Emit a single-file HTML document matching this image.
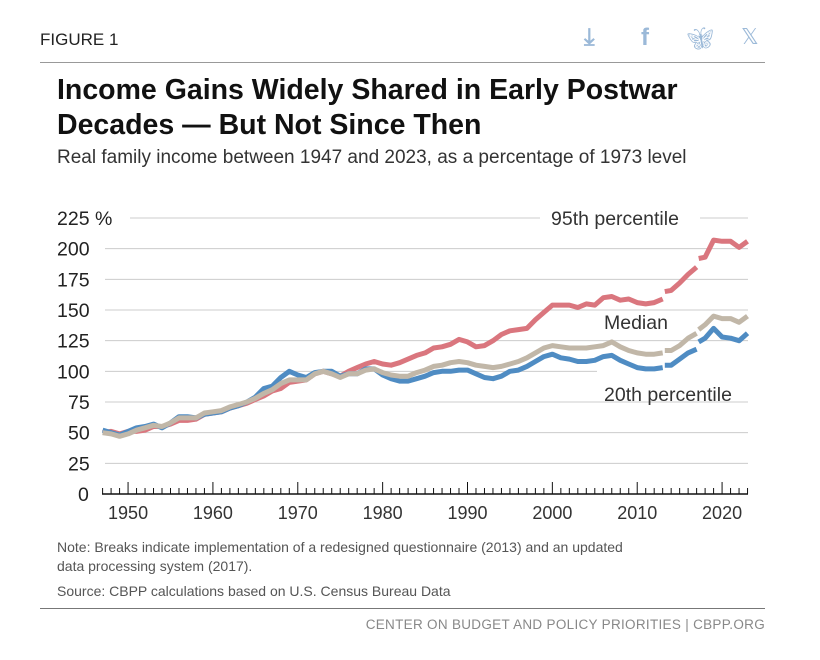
<!DOCTYPE html>
<html><head><meta charset="utf-8"><style>
body{margin:0;background:#fff;font-family:"Liberation Sans",sans-serif;}
.t{position:absolute;white-space:nowrap;}
</style></head><body>
<div style="position:relative;width:820px;height:660px;overflow:hidden">
<div class="t" style="left:40px;top:30px;font-size:17px;color:#222">FIGURE 1</div>
<div class="t" style="left:584px;top:24px;font-size:24px;color:#9bb9d8;font-weight:bold">⤓</div>
<div class="t" style="left:641px;top:24px;font-size:24px;color:#9bb9d8;font-weight:bold">f</div>
<div class="t" style="left:686px;top:26px;font-size:22px;color:#9bb9d8">🦋︎</div>
<div class="t" style="left:741px;top:24px;font-size:22px;color:#9bb9d8">𝕏</div>
<div style="position:absolute;left:40px;top:62px;width:725px;height:1px;background:#999"></div>
<div class="t" style="left:57px;top:73px;font-size:28.5px;font-weight:bold;color:#111;line-height:35px">Income Gains Widely Shared in Early Postwar<br>Decades — But Not Since Then</div>
<div class="t" style="left:57px;top:147px;font-size:19px;color:#333">Real family income between 1947 and 2023, as a percentage of 1973 level</div>
<svg id="c" width="820" height="660" style="position:absolute;left:0;top:0" font-family="Liberation Sans, sans-serif"></svg>
<div class="t" style="left:57px;top:538px;font-size:14px;color:#555;line-height:19px">Note: Breaks indicate implementation of a redesigned questionnaire (2013) and an updated<br>data processing system (2017).</div>
<div class="t" style="left:57px;top:583px;font-size:14px;color:#555">Source: CBPP calculations based on U.S. Census Bureau Data</div>
<div style="position:absolute;left:40px;top:608px;width:725px;height:1px;background:#777"></div>
<div class="t" style="right:55px;top:617px;font-size:13.5px;color:#888;letter-spacing:0.3px">CENTER ON BUDGET AND POLICY PRIORITIES | CBPP.ORG</div>
</div>
<script>
const s=document.getElementById('c');let h='';
const Y=v=>494-v*1.2267, X=y=>102.6+(y-1947)*8.486;
for(let i=0;i<=9;i++){const y=Y(i*25);let x0=i==9?130:105;
 if(i==9){h+=`<line x1="${x0}" x2="540" y1="${y}" y2="${y}" stroke="#ccc"/><line x1="700" x2="748" y1="${y}" y2="${y}" stroke="#ccc"/>`;}
 else if(i==4){h+=`<line x1="${x0}" x2="597" y1="${y}" y2="${y}" stroke="#ccc"/>`;}
 else if(i>0)h+=`<line x1="${x0}" x2="748" y1="${y}" y2="${y}" stroke="#ccc"/>`;
 h+=`<text x="${i==9?57:(i*25>=100?57:(i==0?78:68))}" y="${y+7}" font-size="19.5" fill="#222">${i*25}${i==9?' %':''}</text>`;}
const d=[[1947,52,50,50],[1948,50,49,51],[1949,48,47,49],[1950,51,49,51],[1951,54,52,51],[1952,55,54,52],[1953,57,56,55],[1954,54,55,55],[1955,58,58,57],[1956,63,62,60],[1957,63,62,60],[1958,62,62,61],[1959,65,66,65],[1960,66,67,66],[1961,67,68,67],[1962,70,71,70],[1963,72,73,72],[1964,75,75,74],[1965,79,78,77],[1966,86,82,80],[1967,88,85,84],[1968,95,90,86],[1969,100,93,91],[1970,97,93,92],[1971,95,93,93],[1972,99,98,98],[1973,100,100,100],[1974,100,98,98],[1975,96,95,96],[1976,98,98,100],[1977,98,98,103],[1978,102,101,106],[1979,102,102,108],[1980,97,99,106],[1981,94,97,105],[1982,92,96,107],[1983,92,96,110],[1984,94,99,113],[1985,96,101,115],[1986,99,104,119],[1987,100,105,120],[1988,100,107,122],[1989,101,108,126],[1990,101,107,124],[1991,98,105,120],[1992,95,104,121],[1993,94,103,125],[1994,96,104,130],[1995,100,106,133],[1996,101,108,134],[1997,104,111,135],[1998,108,115,142],[1999,112,119,148],[2000,114,121,154],[2001,111,120,154],[2002,110,119,154],[2003,108,119,152],[2004,108,119,155],[2005,109,120,154],[2006,112,121,160],[2007,113,124,161],[2008,109,120,158],[2009,106,117,159],[2010,103,115,156],[2011,102,114,155],[2012,102,114,156],[2013,103,115,159]];
const d2=[[2013.25,105,117,165],[2014,105,117,166],[2015,110,121,172],[2016,115,127,179],[2017,118,131,185]];
const d3=[[2017.25,124,134,192],[2018,127,138,193],[2019,135,145,207],[2020,128,143,206],[2021,127,143,206],[2022,125,140,201],[2023,131,145,206]];
const cols=['#4f8cc3','#c1b7a8','#da767e'];
for(const k of [3,1,2]){for(const seg of [d,d2,d3]){h+=`<polyline fill="none" stroke="${cols[k-1]}" stroke-width="5" stroke-linejoin="round" points="${seg.map(r=>X(r[0]).toFixed(1)+','+Y(r[k]).toFixed(1)).join(' ')}"/>`;}}
h+=`<line x1="102" x2="748" y1="494" y2="494" stroke="#111" stroke-width="1.5"/>`;
for(let y=1947;y<=2023;y++){const x=X(y);h+=`<line x1="${x}" x2="${x}" y1="${y%10==0?482:488}" y2="494" stroke="#111"/>`;if(y%10==0)h+=`<text x="${x}" y="519" font-size="18" fill="#333" text-anchor="middle">${y}</text>`;}
h+=`<text x="551" y="225" font-size="19.5" fill="#333">95th percentile</text><text x="604" y="329" font-size="19.5" fill="#333">Median</text><text x="604" y="401" font-size="19.5" fill="#333">20th percentile</text>`;
s.innerHTML=h;
</script>
</body></html>
